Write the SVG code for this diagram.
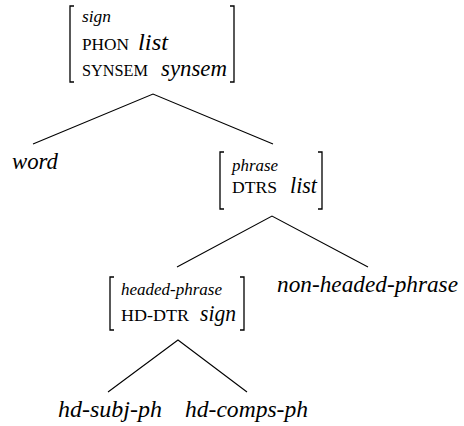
<svg xmlns="http://www.w3.org/2000/svg" width="464" height="426" viewBox="0 0 464 426">
<style>
  .it { font-style: italic; font-size: 23px; }
  .ty { font-style: italic; font-size: 17px; }
  .sc { font-size: 16px; }
  .br { fill: none; stroke: #000; stroke-width: 1.3; }
  .edge { fill: none; stroke: #000; stroke-width: 1.1; }
</style>
<rect width="464" height="426" fill="#fff"/>
<g id="connectors">
  <path class="edge" d="M33,144 L153,94 L273,144"/>
  <path class="edge" d="M177,267 L272,216 L368,267"/>
  <path class="edge" d="M108,392 L178,340 L247,392"/>
</g>
<g id="nodes" font-family="Liberation Serif, Tinos, DejaVu Serif, serif" fill="#000">
<g id="node-sign">
  <path class="br" d="M74,6 H70 V82 H74"/>
  <path class="br" d="M230,6 H234 V82 H230"/>
  <text class="ty" x="82" y="21.5" textLength="29" lengthAdjust="spacingAndGlyphs">sign</text>
  <text class="sc" x="82" y="50" textLength="47" lengthAdjust="spacingAndGlyphs">PHON</text>
  <text class="it" x="138" y="50" textLength="30" lengthAdjust="spacingAndGlyphs">list</text>
  <text class="sc" x="82" y="76" textLength="66" lengthAdjust="spacingAndGlyphs">SYNSEM</text>
  <text class="it" x="161" y="76" textLength="66" lengthAdjust="spacingAndGlyphs">synsem</text>
</g>
<g id="node-word">
  <text class="it" x="12" y="169" textLength="46" lengthAdjust="spacingAndGlyphs">word</text>
</g>
<g id="node-phrase">
  <path class="br" d="M224,152 H220 V209 H224"/>
  <path class="br" d="M318,152 H322 V209 H318"/>
  <text class="ty" x="232" y="171" textLength="46" lengthAdjust="spacingAndGlyphs">phrase</text>
  <text class="sc" x="232" y="193" textLength="45" lengthAdjust="spacingAndGlyphs">DTRS</text>
  <text class="it" x="290" y="193" textLength="27" lengthAdjust="spacingAndGlyphs">list</text>
</g>
<g id="node-non-headed-phrase">
  <text class="it" x="277" y="292" textLength="181" lengthAdjust="spacingAndGlyphs">non-headed-phrase</text>
</g>
<g id="node-headed-phrase">
  <path class="br" d="M114,277 H110 V330 H114"/>
  <path class="br" d="M240,277 H244 V330 H240"/>
  <text class="ty" x="121" y="295" textLength="101" lengthAdjust="spacingAndGlyphs">headed-phrase</text>
  <text class="sc" x="121" y="321" textLength="68" lengthAdjust="spacingAndGlyphs">HD-DTR</text>
  <text class="it" x="200" y="321" textLength="36" lengthAdjust="spacingAndGlyphs">sign</text>
</g>
<g id="node-hd-subj-ph">
  <text class="it" x="58" y="417" textLength="104" lengthAdjust="spacingAndGlyphs">hd-subj-ph</text>
</g>
<g id="node-hd-comps-ph">
  <text class="it" x="185" y="417" textLength="123" lengthAdjust="spacingAndGlyphs">hd-comps-ph</text>
</g>
</g>
</svg>
